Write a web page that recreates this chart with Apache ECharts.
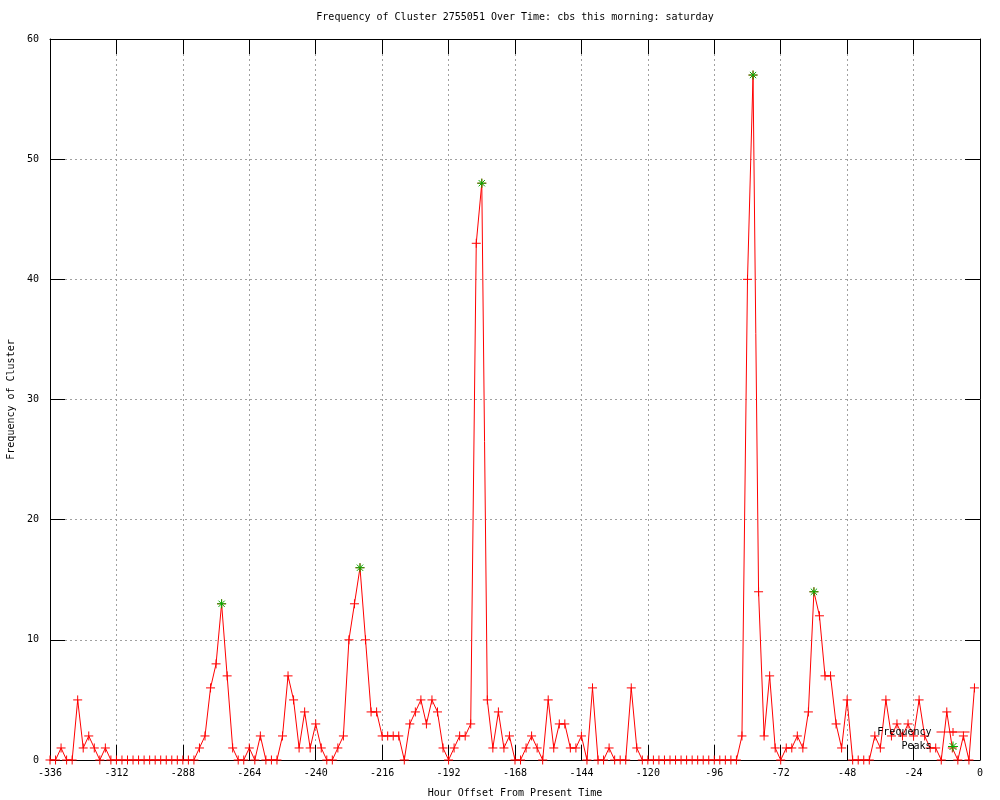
<!DOCTYPE html>
<html>
<head>
<meta charset="utf-8">
<script src="https://cdn.jsdelivr.net/npm/echarts@6/dist/echarts.min.js"></script>
<style>html,body{margin:0;padding:0;background:#fff;}#chart{width:1000px;height:800px;}</style>
</head>
<body>
<div id="chart"></div>
<script>
const chartTitle = 'Frequency of Cluster 2755051 Over Time: cbs this morning: saturday';
const xAxisTitle = 'Hour Offset From Present Time';
const yAxisTitle = 'Frequency of Cluster';

const hours = [
  -336,-334,-332,-330,-328,-326,-324,-322,-320,-318,-316,-314,
  -312,-310,-308,-306,-304,-302,-300,-298,-296,-294,-292,-290,
  -288,-286,-284,-282,-280,-278,-276,-274,-272,-270,-268,-266,
  -264,-262,-260,-258,-256,-254,-252,-250,-248,-246,-244,-242,
  -240,-238,-236,-234,-232,-230,-228,-226,-224,-222,-220,-218,
  -216,-214,-212,-210,-208,-206,-204,-202,-200,-198,-196,-194,
  -192,-190,-188,-186,-184,-182,-180,-178,-176,-174,-172,-170,
  -168,-166,-164,-162,-160,-158,-156,-154,-152,-150,-148,-146,
  -144,-142,-140,-138,-136,-134,-132,-130,-128,-126,-124,-122,
  -120,-118,-116,-114,-112,-110,-108,-106,-104,-102,-100,-98,
  -96,-94,-92,-90,-88,-86,-84,-82,-80,-78,-76,-74,
  -72,-70,-68,-66,-64,-62,-60,-58,-56,-54,-52,-50,
  -48,-46,-44,-42,-40,-38,-36,-34,-32,-30,-28,-26,
  -24,-22,-20,-18,-16,-14,-12,-10,-8,-6,-4,-2
];
const frequency = [
  0,0,1,0,0,5,1,2,1,0,1,0,
  0,0,0,0,0,0,0,0,0,0,0,0,
  0,0,0,1,2,6,8,13,7,1,0,0,
  1,0,2,0,0,0,2,7,5,1,4,1,
  3,1,0,0,1,2,10,13,16,10,4,4,
  2,2,2,2,0,3,4,5,3,5,4,1,
  0,1,2,2,3,43,48,5,1,4,1,2,
  0,0,1,2,1,0,5,1,3,3,1,1,
  2,0,6,0,0,1,0,0,0,6,1,0,
  0,0,0,0,0,0,0,0,0,0,0,0,
  0,0,0,0,0,2,40,57,14,2,7,1,
  0,1,1,2,1,4,14,12,7,7,3,1,
  5,0,0,0,0,2,1,5,2,3,2,3,
  2,5,2,1,1,0,4,1,0,2,0,6
];
const peakHours = [-274, -224, -180, -82, -60];
const peakValues = [13, 16, 48, 57, 14];

const xTicks = {min: -336, max: 0, interval: 24};
const yTicks = {min: 0, max: 60, interval: 10};

const freqData = hours.map((h, i) => [h, frequency[i]]);
const peakData = peakHours.map((h, i) => [h, peakValues[i]]);

const FONT = 'DejaVu Sans Mono';
const RED = '#ff0000';
const GREEN = '#00b000';
const plusPath = 'path://M0,5L10,5M5,0L5,10';
const starPath = 'path://M0,5L10,5M5,0L5,10M1.5,1.5L8.5,8.5M8.5,1.5L1.5,8.5';

const chart = echarts.init(document.getElementById('chart'), null, {renderer: 'canvas'});
const gridLine = {show: true, lineStyle: {color: '#a0a0a0', width: 1, type: [2, 3]}};
const tickStyle = {show: true, inside: true, length: 15, lineStyle: {color: '#000', width: 1}};
const lineStyleAxis = {show: true, onZero: false, lineStyle: {color: '#000', width: 1}};
const labelStyle = {color: '#000', fontFamily: FONT, fontSize: 10};

chart.setOption({
  animation: false,
  backgroundColor: '#fff',
  title: {
    text: chartTitle,
    left: 515,
    textAlign: 'center',
    top: 12,
    padding: 0,
    textStyle: {color: '#000', fontFamily: FONT, fontSize: 10, fontWeight: 'normal'}
  },
  grid: {left: 50, right: 20, top: 39, bottom: 40, containLabel: false, outerBoundsMode: 'none'},
  legend: {
    orient: 'vertical',
    right: 25,
    top: 722,
    align: 'right',
    itemWidth: 33,
    itemHeight: 10,
    itemGap: 4,
    padding: 5,
    selectedMode: false,
    textStyle: {color: '#000', fontFamily: FONT, fontSize: 10, lineHeight: 10},
    data: [
      {name: 'Frequency', lineStyle: {color: RED, width: 1}, itemStyle: {color: RED, borderColor: RED, borderWidth: 1}},
      {name: 'Peaks', icon: starPath, itemStyle: {color: 'rgba(0,0,0,0)', borderColor: GREEN, borderWidth: 1}}
    ]
  },
  xAxis: [{
    type: 'value', position: 'bottom',
    min: xTicks.min, max: xTicks.max, interval: xTicks.interval,
    name: xAxisTitle, nameLocation: 'middle', nameGap: 28,
    nameTextStyle: {color: '#000', fontFamily: FONT, fontSize: 10},
    axisLine: lineStyleAxis, axisTick: tickStyle,
    axisLabel: Object.assign({margin: 8}, labelStyle),
    splitLine: gridLine
  }, {
    type: 'value', position: 'top',
    min: xTicks.min, max: xTicks.max, interval: xTicks.interval,
    axisLine: lineStyleAxis, axisTick: tickStyle,
    axisLabel: {show: false}, splitLine: {show: false}
  }],
  yAxis: [{
    type: 'value', position: 'left',
    min: yTicks.min, max: yTicks.max, interval: yTicks.interval,
    name: yAxisTitle, nameLocation: 'middle', nameGap: 31, nameRotate: 90,
    nameTextStyle: {color: '#000', fontFamily: FONT, fontSize: 10},
    axisLine: lineStyleAxis, axisTick: tickStyle,
    axisLabel: Object.assign({margin: 11}, labelStyle),
    splitLine: gridLine
  }, {
    type: 'value', position: 'right',
    min: yTicks.min, max: yTicks.max, interval: yTicks.interval,
    axisLine: lineStyleAxis, axisTick: tickStyle,
    axisLabel: {show: false}, splitLine: {show: false}
  }],
  series: [{
    name: 'Frequency',
    type: 'line',
    data: freqData,
    xAxisIndex: 0, yAxisIndex: 0,
    symbol: plusPath,
    symbolSize: 9,
    showAllSymbol: true,
    lineStyle: {color: RED, width: 1},
    itemStyle: {color: RED, borderColor: RED, borderWidth: 1},
    emphasis: {disabled: true},
    z: 2
  }, {
    name: 'Peaks',
    type: 'scatter',
    data: peakData,
    xAxisIndex: 0, yAxisIndex: 0,
    symbol: starPath,
    symbolSize: 9,
    symbolKeepAspect: true,
    itemStyle: {color: 'rgba(0,0,0,0)', borderColor: GREEN, borderWidth: 1, opacity: 1},
    emphasis: {disabled: true},
    z: 3
  }]
});
</script>
</body>
</html>
